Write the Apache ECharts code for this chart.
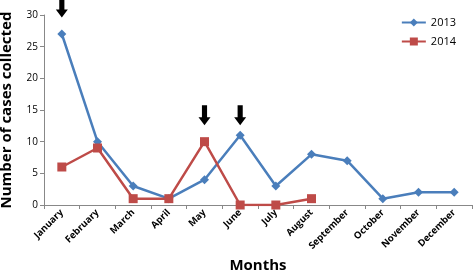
<!DOCTYPE html>
<html>
<head>
<meta charset="utf-8">
<script src="https://cdn.jsdelivr.net/npm/echarts@6/dist/echarts.min.js"></script>
<style>
  html, body { margin: 0; padding: 0; background: #fff; }
  #chart { width: 473px; height: 270px; }
</style>
</head>
<body>
<div id="chart"></div>
<script>
const months = ['January', 'February', 'March', 'April', 'May', 'June', 'July', 'August', 'September', 'October', 'November', 'December']
const cases2013 = [27, 10, 3, 1, 4, 11, 3, 8, 7, 1, 2, 2]
const cases2014 = [6, 9, 1, 1, 10, 0, 0, 1]
// months flagged by arrows, and the value where each arrow tip sits
const arrowMonths = ['January', 'May', 'June']
const arrowTips = [29.6, 12.6, 12.6]

const font = '"Open Sans", "Liberation Sans", sans-serif'
const arrowPath = 'path://M4,0 L10,0 L10,12 L14,12 L7,20 L0,12 L4,12 Z'

const chart = echarts.init(document.getElementById('chart'))

const option = {
  animation: false,
  grid: { left: 44, right: 1, top: 15, bottom: 65, outerBoundsMode: 'none', containLabel: false },
  legend: {
    orient: 'vertical',
    right: 12,
    top: 12,
    itemGap: 8,
    itemWidth: 24,
    itemHeight: 10,
    textStyle: { fontFamily: font, fontSize: 11, color: '#000' },
    data: ['2013', '2014'],
  },
  xAxis: {
    type: 'category',
    data: months,
    boundaryGap: true,
    axisLine: { lineStyle: { color: '#888', width: 1 } },
    axisTick: { show: true, alignWithLabel: false, length: 4, lineStyle: { color: '#888' } },
    axisLabel: {
      rotate: 45,
      interval: 0,
      margin: 6,
      fontFamily: font,
      fontSize: 9.5,
      fontWeight: 'bold',
      color: '#000',
    },
    name: 'Months',
    nameLocation: 'middle',
    nameGap: 49,
    nameTextStyle: { fontFamily: font, fontSize: 15, fontWeight: 'bold', color: '#000' },
  },
  yAxis: {
    type: 'value',
    min: 0,
    max: 30,
    interval: 5,
    splitLine: { show: false },
    axisLine: { show: true, lineStyle: { color: '#888', width: 1 } },
    axisTick: { show: true, length: 4, lineStyle: { color: '#888' } },
    axisLabel: { fontFamily: font, fontSize: 10, color: '#000', margin: 6 },
    name: 'Number of cases collected',
    nameLocation: 'middle',
    nameGap: 30,
    nameTextStyle: { fontFamily: font, fontSize: 15, fontWeight: 'bold', color: '#000' },
  },
  series: [
    {
      name: '2013',
      type: 'line',
      data: cases2013,
      symbol: 'diamond',
      symbolSize: 9,
      lineStyle: { color: '#4a7ebb', width: 2.5 },
      itemStyle: { color: '#4a7ebb' },
      markPoint: {
        symbol: arrowPath,
        symbolSize: [12, 20],
        symbolOffset: [0, '-50%'],
        itemStyle: { color: '#000' },
        label: { show: false },
        data: arrowMonths.map((m, i) => ({ coord: [m, arrowTips[i]] })),
      },
    },
    {
      name: '2014',
      type: 'line',
      data: cases2014,
      symbol: 'rect',
      symbolSize: 9,
      lineStyle: { color: '#be4b48', width: 2.5 },
      itemStyle: { color: '#be4b48' },
    },
  ],
}

chart.setOption(option)
</script>
</body>
</html>
